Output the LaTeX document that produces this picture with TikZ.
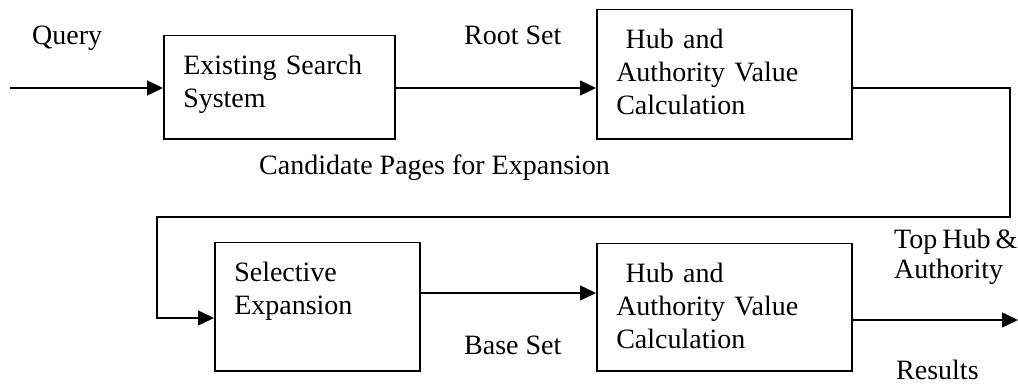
\documentclass[tikz,border=0pt]{standalone}
\usepackage{fontspec}
\setmainfont{Liberation Serif}
\usepackage{tikz}
\usetikzlibrary{arrows.meta, calc}
\tikzset{
  % Process box, text set top left
  pbox/.style={
    rectangle, draw=black, line width=1.5pt,
    anchor=north west, align=left,
    inner xsep=19.5pt, inner ysep=19pt,
    font=\fontsize{28}{33}\selectfont
  },
  % Free text labels
  flabel/.style={inner sep=0pt, align=left, font=\fontsize{28}{33}\selectfont},
  % Arrows
  arr/.style={-{Triangle[length=16pt,width=15pt]}, line width=1.5pt},
}

\begin{document}
\begin{tikzpicture}[x=1pt, y=1pt]
  \useasboundingbox (0,0) rectangle (1018,385);

  %% Process boxes
  \node[pbox, text width=192pt, text depth=46pt] (ess)  at (163,350) {Existing Search\\System};
  \node[pbox, text width=216pt, text depth=72pt] (hav1) at (596,376) {~Hub and\\Authority Value\\Calculation};
  \node[pbox, text width=166pt, text depth=71pt] (sel)  at (214,143) {Selective\\Expansion};
  \node[pbox, text width=216pt, text depth=70pt] (hav2) at (596,142) {~Hub and\\Authority Value\\Calculation};

  %% Labels
  \node[flabel, anchor=base west] (qry)  at (32,340)  {Query};
  \node[flabel, anchor=base west] (root) at (464,340) {Root Set};
  \node[flabel, anchor=base west] (cand) at (259,210) {Candidate Pages for Expansion};
  \node[flabel, anchor=base west] (bset) at (464,30)  {Base Set};
  \node[flabel, anchor=north west, font=\fontsize{28}{30}\selectfont]
    (toplbl) at (894,156) {Top\hspace{5pt}Hub\hspace{5pt}\&\\Authority};
  \node[flabel, anchor=base west] (rslt) at (896,5)   {Results};

  %% Bend points
  \coordinate (qstart) at (10,297);
  \coordinate (loopR)  at (1010,168);
  \coordinate (loopL)  at (157,67);
  \coordinate (brow)   at (500,92);
  \coordinate (outend) at (1018,65);

  %% Flow
  \draw[arr] (qstart) -- (qstart -| ess.west);
  \draw[arr] (qstart -| ess.east) -- (qstart -| hav1.west);
  \draw[arr] (qstart -| hav1.east) -| (loopR) -| (loopL) -- (loopL -| sel.west);
  \draw[arr] (brow -| sel.east) -- (brow -| hav2.west);
  \draw[arr] (outend -| hav2.east) -- (outend);

\end{tikzpicture}
\end{document}
